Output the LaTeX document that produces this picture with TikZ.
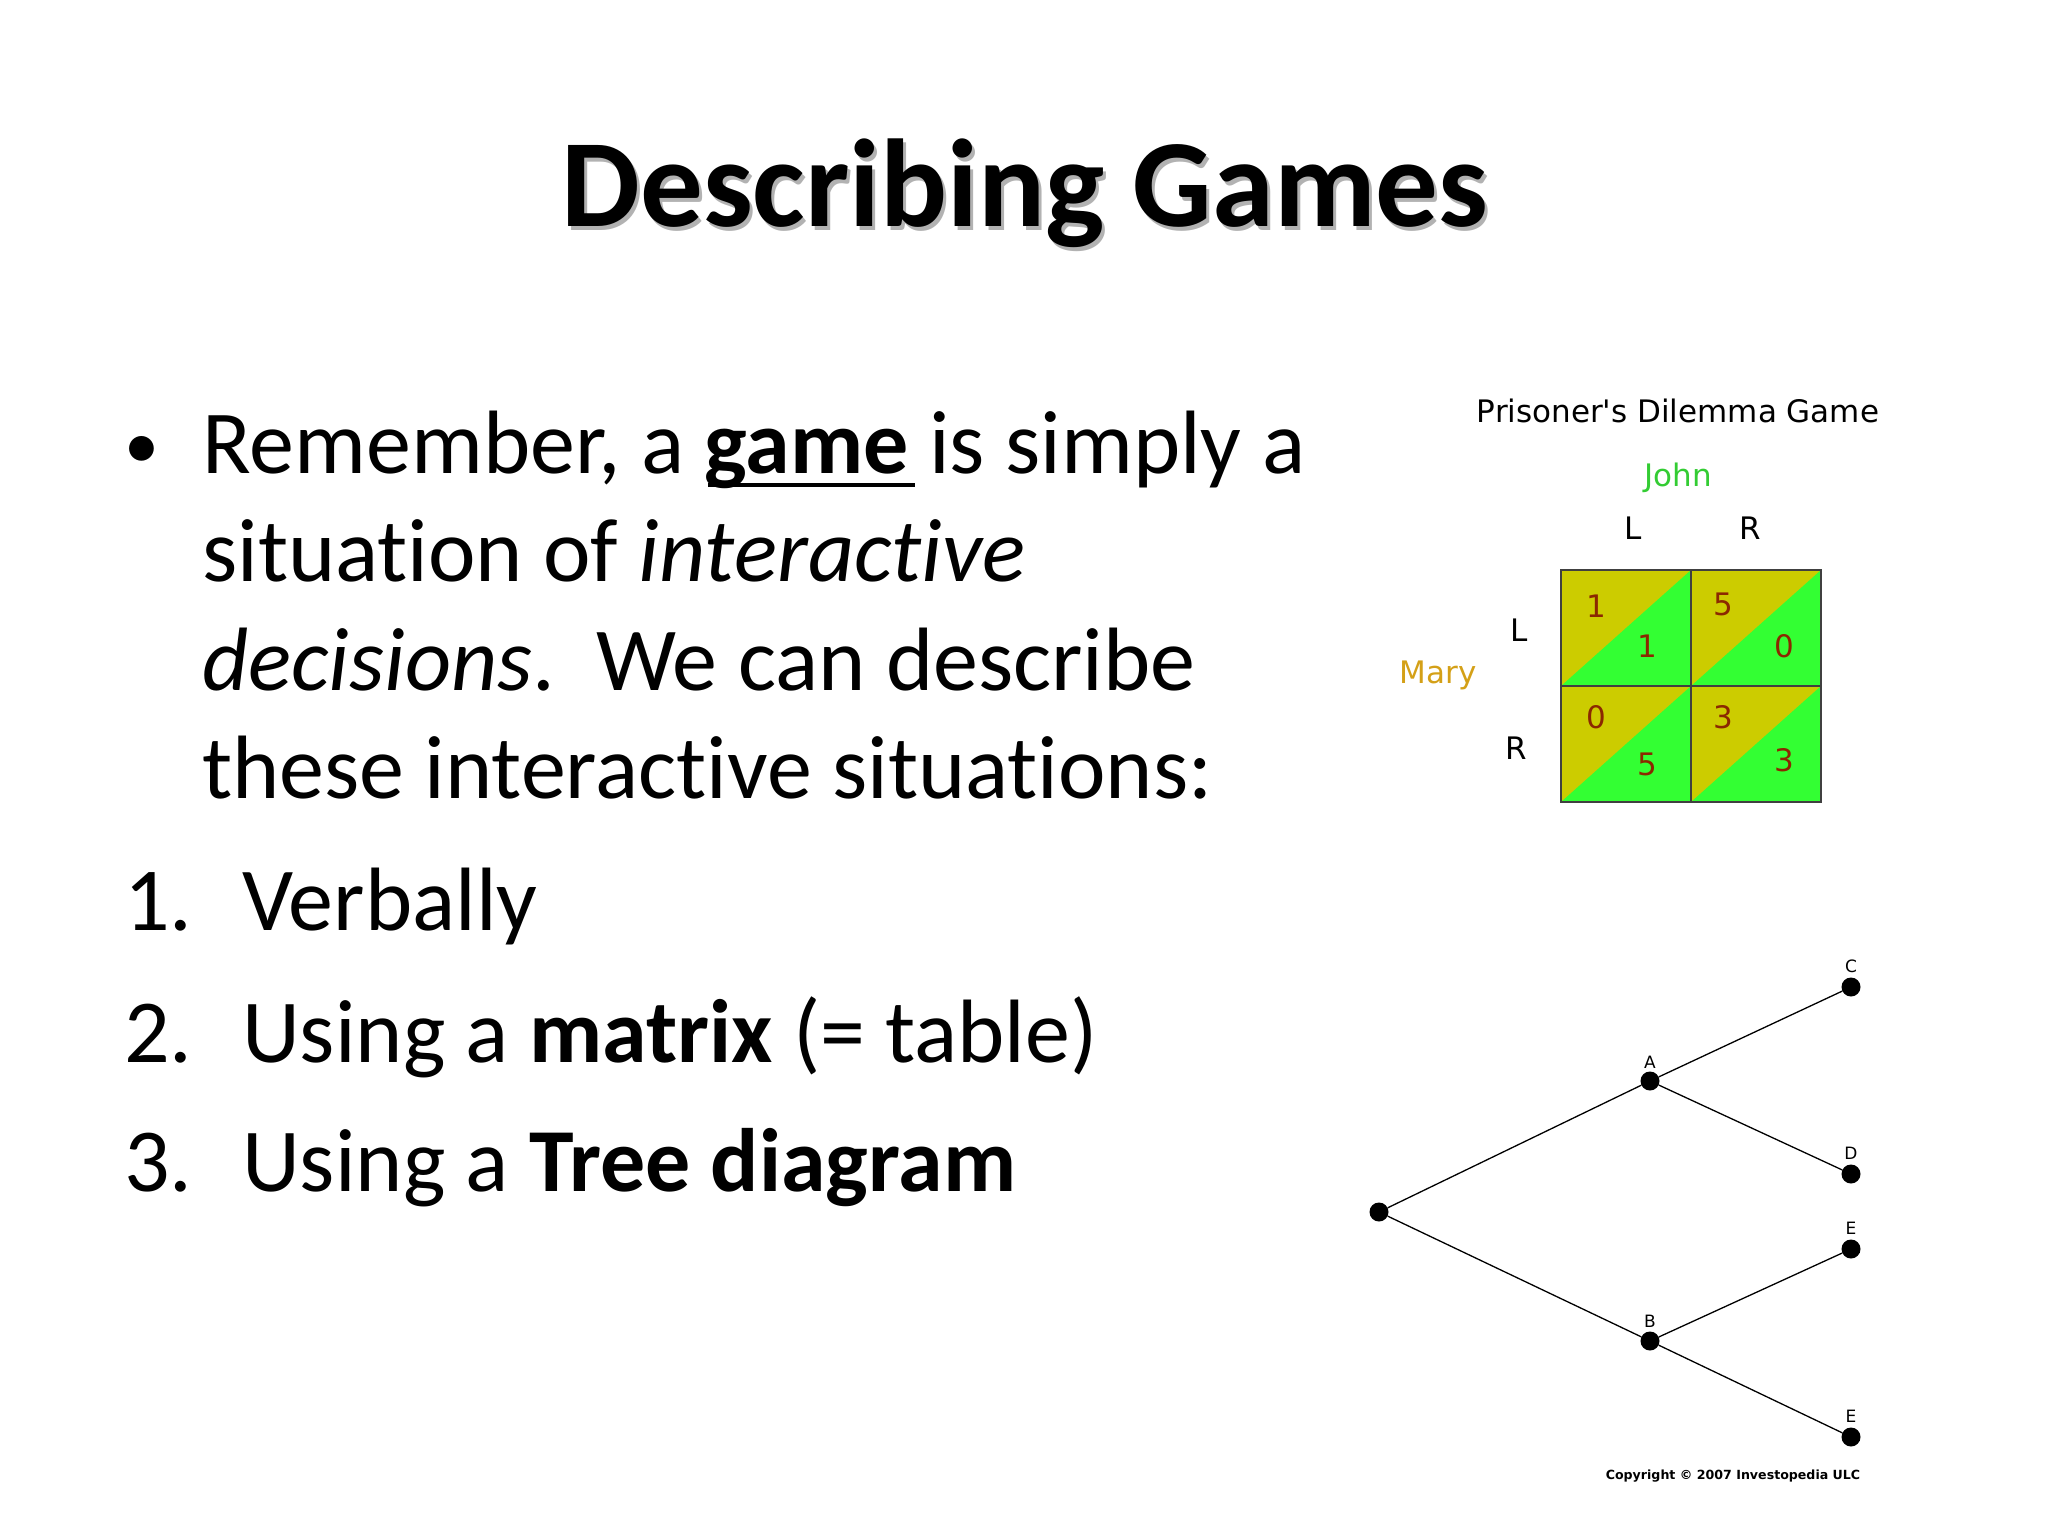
\documentclass[tikz,border=0pt]{standalone}
\usepackage{fontspec}
\setmainfont[RawFeature=-liga]{Carlito}
\newfontfamily\vfont{DejaVu Sans}
\newcommand{\myul}[1]{\underline{#1}}
\begin{document}
\begin{tikzpicture}[x=1pt,y=-1pt,
  body/.style={anchor=base west,inner sep=0,font=\fontsize{90}{100}\selectfont},
  vlab/.style={inner sep=0,font=\vfont\fontsize{31}{34}\selectfont},
  num/.style={inner sep=0,font=\vfont\fontsize{31}{34}\selectfont,text=numc},
  dot/.style={circle,fill=black,inner sep=0,minimum size=19},
  tlab/.style={inner sep=0,font=\vfont\fontsize{17}{18}\selectfont},
  edge/.style={line width=1.3pt}]
\definecolor{ylw}{HTML}{CCCC00}
\definecolor{grn}{HTML}{33FF33}
\definecolor{numc}{HTML}{8B2800}
\definecolor{jgreen}{HTML}{33CC33}
\definecolor{mgold}{HTML}{D4A017}
\useasboundingbox (0,0) rectangle (2048,1536);
% title
\node[text=gray!60,inner sep=0,font=\bfseries\fontsize{125}{130}\selectfont] at (1028,197) {Describing Games};
\node (title)[inner sep=0,font=\bfseries\fontsize{125}{130}\selectfont] at (1025,193) {Describing Games};
% body
\node (b)[body,font=\fontsize{70}{80}\selectfont] at (124,468) {•};
\node (l1)[body] at (202,473) {Remember, a \textbf{game}\kern-0pt\ is simply a};
\draw[line width=4pt] (708,485) -- (915,485);
\node (l2)[body] at (202,581) {situation of \textit{interactive}};
\node (l3)[body] at (202,690) {\textit{decisions}.\ \ We can describe};
\node (l4)[body] at (202,798) {these interactive situations:};
\node (n1)[body] at (124,930) {1.};
\node (i1)[body] at (242,930) {Verbally};
\node (n2)[body] at (124,1062) {2.};
\node (i2)[body] at (242,1062) {Using a \textbf{matrix} (= table)};
\node (n3)[body] at (124,1191) {3.};
\node (i3)[body] at (242,1191) {Using a \textbf{Tree diagram}};
% matrix
\node (pd)[vlab] at (1678,411) {Prisoner's Dilemma Game};
\node (john)[vlab,text=jgreen] at (1678,478) {John};
\node (cL)[vlab] at (1633,528) {L};
\node (cR)[vlab] at (1750,528) {R};
\node (rL)[vlab] at (1519,630) {L};
\node (rR)[vlab] at (1516,748) {R};
\node (mary)[vlab,text=mgold] at (1438,675) {Mary};
\foreach \x/\y in {1561/570,1691/570,1561/686,1691/686}{
  \fill[ylw] (\x,\y) rectangle ++(130,116);
  \fill[grn] (\x,\y+116) -- ++(130,-116) -- ++(0,116) -- cycle;
}
\draw[line width=2pt,black!75] (1561,570) rectangle (1821,802);
\draw[line width=2pt,black!75] (1691,570) -- (1691,802) (1561,686) -- (1821,686);
\node[num] at (1596,606) {1};
\node[num] at (1647,646) {1};
\node[num] at (1723,604) {5};
\node[num] at (1784,646) {0};
\node[num] at (1596,717) {0};
\node[num] at (1647,764) {5};
\node[num] at (1723,717) {3};
\node[num] at (1784,760) {3};
% tree
\node (r)[dot] at (1379,1212) {};
\node (A)[dot] at (1650,1081) {};
\node (B)[dot] at (1650,1341) {};
\node (C)[dot] at (1851,987) {};
\node (D)[dot] at (1851,1174) {};
\node (E)[dot] at (1851,1249) {};
\node (E2)[dot] at (1851,1437) {};
\draw[edge] (r)--(A) (r)--(B) (A)--(C) (A)--(D) (B)--(E) (B)--(E2);
\node[tlab] at (1650,1062) {A};
\node[tlab] at (1650,1321) {B};
\node[tlab] at (1851,966) {C};
\node[tlab] at (1851,1153) {D};
\node[tlab] at (1851,1228) {E};
\node[tlab] at (1851,1416) {E};
\node (copy)[inner sep=0,font=\vfont\bfseries\fontsize{12.6}{16}\selectfont] at (1733,1476) {Copyright \textcopyright{} 2007 Investopedia ULC};
\end{tikzpicture}
\end{document}
